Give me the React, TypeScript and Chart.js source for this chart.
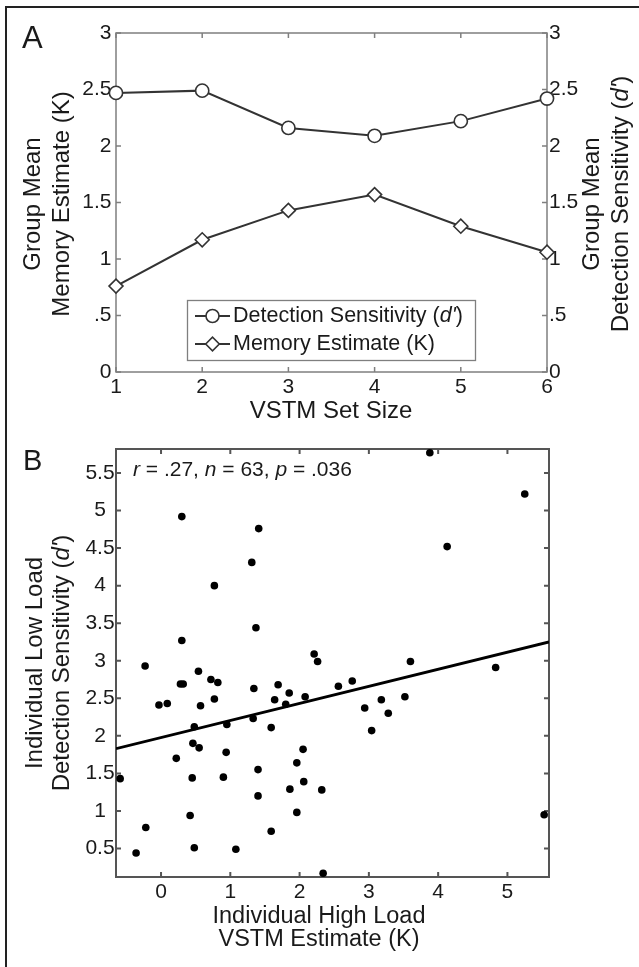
import React, { useEffect, useRef } from "react";
import { Chart, registerables } from "chart.js";

Chart.register(...registerables);

// ---------- Panel A data ----------
const setSizes = [1, 2, 3, 4, 5, 6];
const detectionDPrime = [2.47, 2.49, 2.16, 2.09, 2.22, 2.42];
const memoryK = [0.76, 1.17, 1.43, 1.57, 1.29, 1.06];
const aYTicks = [0, 0.5, 1, 1.5, 2, 2.5, 3];
const aYTickLabels = ["0", ".5", "1", "1.5", "2", "2.5", "3"];
const aXTicks = [1, 2, 3, 4, 5, 6];

// ---------- Panel B data ----------
const highLoadK = [
  0.3, 1.41, 1.31, 0.77, 1.37, 0.3, -0.23, 2.21, 2.26, 3.88,
  5.25, 4.13, 3.6, 4.83, 3.52, 5.53, 0.54, 0.28, 0.32, 0.72,
  0.82, 1.34, -0.03, 0.09, 0.57, 0.77, 1.33, 0.95, 0.48, 0.46,
  0.55, 0.94, 0.22, -0.59, 0.45, 0.9, 1.4, 1.4, 0.42, -0.22,
  -0.36, 0.48, 1.08, 1.69, 1.64, 1.85, 1.8, 2.08, 2.56, 2.76,
  2.94, 3.18, 3.28, 3.04, 1.59, 2.05, 1.96, 2.06, 1.86, 2.32,
  1.96, 1.59, 2.34,
];
const lowLoadDPrime = [
  4.92, 4.76, 4.31, 4.0, 3.44, 3.27, 2.93, 3.09, 2.99, 5.77,
  5.22, 4.52, 2.99, 2.91, 2.52, 0.95, 2.86, 2.69, 2.69, 2.75,
  2.71, 2.63, 2.41, 2.43, 2.4, 2.49, 2.23, 2.15, 2.12, 1.9,
  1.84, 1.78, 1.7, 1.43, 1.44, 1.45, 1.55, 1.2, 0.94, 0.78,
  0.44, 0.51, 0.49, 2.68, 2.48, 2.57, 2.42, 2.52, 2.66, 2.73,
  2.37, 2.48, 2.3, 2.07, 2.11, 1.82, 1.64, 1.39, 1.29, 1.28,
  0.98, 0.73, 0.17,
];
const fitX = [-0.65, 5.6];
const fitY = [1.83, 3.25];
const bXTicks = [0, 1, 2, 3, 4, 5];
const bYTicks = [0.5, 1, 1.5, 2, 2.5, 3, 3.5, 4, 4.5, 5, 5.5];
const bYTickLabels = ["0.5", "1", "1.5", "2", "2.5", "3", "3.5", "4", "4.5", "5", "5.5"];

// ---------- styling ----------
const W = 639;
const H = 967;
const FONT = '"Liberation Sans", Arial, Helvetica, sans-serif';
const INK = "#1a1a1a";
const LINE = "#333333";

type Seg = { t: string; i?: boolean };

function drawRich(
  ctx: CanvasRenderingContext2D,
  segs: Seg[],
  x: number,
  y: number,
  size: number,
  align: "left" | "center" | "right",
  rot = 0,
  color = INK
) {
  ctx.save();
  ctx.translate(x, y);
  if (rot) ctx.rotate(rot);
  ctx.textBaseline = "middle";
  ctx.textAlign = "left";
  ctx.fillStyle = color;
  const fontOf = (s: Seg) => `${s.i ? "italic " : ""}${size}px ${FONT}`;
  const widths = segs.map((s) => {
    ctx.font = fontOf(s);
    return ctx.measureText(s.t).width;
  });
  const total = widths.reduce((a, b) => a + b, 0);
  let cx = align === "left" ? 0 : align === "center" ? -total / 2 : -total;
  segs.forEach((s, k) => {
    ctx.font = fontOf(s);
    ctx.fillText(s.t, cx, 0);
    cx += widths[k];
  });
  ctx.restore();
}

function drawFrame(
  chart: any,
  xId: string,
  yLeftId: string,
  yRightId: string,
  xTicks: number[],
  yTicks: number[],
  color: string,
  width: number,
  tickLen: number
) {
  const ctx: CanvasRenderingContext2D = chart.ctx;
  const a = chart.chartArea;
  const xs = chart.scales[xId];
  const yl = chart.scales[yLeftId];
  const yr = chart.scales[yRightId];
  ctx.save();
  ctx.strokeStyle = color;
  ctx.lineWidth = width;
  ctx.strokeRect(a.left, a.top, a.right - a.left, a.bottom - a.top);
  ctx.beginPath();
  xTicks.forEach((v) => {
    const px = xs.getPixelForValue(v);
    ctx.moveTo(px, a.bottom);
    ctx.lineTo(px, a.bottom - tickLen);
    ctx.moveTo(px, a.top);
    ctx.lineTo(px, a.top + tickLen);
  });
  yTicks.forEach((v) => {
    const pl = yl.getPixelForValue(v);
    ctx.moveTo(a.left, pl);
    ctx.lineTo(a.left + tickLen, pl);
    const pr = yr.getPixelForValue(v);
    ctx.moveTo(a.right, pr);
    ctx.lineTo(a.right - tickLen, pr);
  });
  ctx.stroke();
  ctx.restore();
}

const panelAPlugin = {
  id: "panelA",
  beforeDatasetsDraw(chart: any) {
    const ctx: CanvasRenderingContext2D = chart.ctx;
    const a = chart.chartArea;
    drawFrame(chart, "x", "y", "y1", aXTicks, aYTicks, "#7f7f7f", 1.5, 5);
    const TS = 21;
    aYTicks.forEach((v, i) => {
      drawRich(ctx, [{ t: aYTickLabels[i] }], a.left - 4.5, chart.scales.y.getPixelForValue(v), TS, "right");
      drawRich(ctx, [{ t: aYTickLabels[i] }], a.right + 2, chart.scales.y1.getPixelForValue(v), TS, "left");
    });
    aXTicks.forEach((v) => {
      drawRich(ctx, [{ t: String(v) }], chart.scales.x.getPixelForValue(v), a.bottom + 15, TS, "center");
    });
    const AT = 24;
    const midY = (a.top + a.bottom) / 2 + 1.5;
    drawRich(ctx, [{ t: "Group Mean" }], 33, midY, AT, "center", -Math.PI / 2);
    drawRich(ctx, [{ t: "Memory Estimate (K)" }], 62, midY, AT, "center", -Math.PI / 2);
    drawRich(ctx, [{ t: "Group Mean" }], 592, midY, AT, "center", -Math.PI / 2);
    drawRich(
      ctx,
      [{ t: "Detection Sensitivity (" }, { t: "d'", i: true }, { t: ")" }],
      621,
      midY,
      AT,
      "center",
      -Math.PI / 2
    );
    drawRich(ctx, [{ t: "VSTM Set Size" }], 331, 411, AT, "center");
    drawRich(ctx, [{ t: "A" }], 22, 39, 31, "left");

    // legend
    ctx.save();
    ctx.fillStyle = "#fff";
    ctx.strokeStyle = "#7f7f7f";
    ctx.lineWidth = 1.3;
    ctx.fillRect(187.5, 300.5, 288, 60);
    ctx.strokeRect(187.5, 300.5, 288, 60);
    const rows = [316, 344];
    ctx.strokeStyle = LINE;
    ctx.lineWidth = 2;
    rows.forEach((ry) => {
      ctx.beginPath();
      ctx.moveTo(195, ry);
      ctx.lineTo(230, ry);
      ctx.stroke();
    });
    ctx.lineWidth = 1.6;
    ctx.fillStyle = "#fff";
    ctx.beginPath();
    ctx.arc(212.5, rows[0], 6.5, 0, Math.PI * 2);
    ctx.fill();
    ctx.stroke();
    ctx.beginPath();
    ctx.moveTo(212.5 - 6.8, rows[1]);
    ctx.lineTo(212.5, rows[1] - 6.8);
    ctx.lineTo(212.5 + 6.8, rows[1]);
    ctx.lineTo(212.5, rows[1] + 6.8);
    ctx.closePath();
    ctx.fill();
    ctx.stroke();
    ctx.restore();
    drawRich(
      ctx,
      [{ t: "Detection Sensitivity (" }, { t: "d'", i: true }, { t: ")" }],
      233,
      rows[0],
      21.5,
      "left"
    );
    drawRich(ctx, [{ t: "Memory Estimate (K)" }], 233, rows[1], 21.5, "left");
  },
};

const panelBPlugin = {
  id: "panelB",
  beforeDatasetsDraw(chart: any) {
    const ctx: CanvasRenderingContext2D = chart.ctx;
    const a = chart.chartArea;
    drawFrame(chart, "x", "y", "y", bXTicks, bYTicks, "#555555", 2, 5);
    const TS = 21;
    bYTicks.forEach((v, i) => {
      drawRich(ctx, [{ t: bYTickLabels[i] }], 100, chart.scales.y.getPixelForValue(v), TS, "center");
    });
    bXTicks.forEach((v) => {
      drawRich(ctx, [{ t: String(v) }], chart.scales.x.getPixelForValue(v), a.bottom + 15, TS, "center");
    });
    const AT = 24;
    const midY = (a.top + a.bottom) / 2;
    drawRich(ctx, [{ t: "Individual Low Load" }], 35, midY, AT, "center", -Math.PI / 2);
    drawRich(
      ctx,
      [{ t: "Detection Sensitivity (" }, { t: "d'", i: true }, { t: ")" }],
      62,
      midY,
      AT,
      "center",
      -Math.PI / 2
    );
    drawRich(ctx, [{ t: "Individual High Load" }], 319, 917, 23.5, "center");
    drawRich(ctx, [{ t: "VSTM Estimate (K)" }], 319, 940, 23.5, "center");
    drawRich(
      ctx,
      [
        { t: "r", i: true },
        { t: " = .27, " },
        { t: "n", i: true },
        { t: " = 63, " },
        { t: "p", i: true },
        { t: " = .036" },
      ],
      133,
      470,
      21,
      "left"
    );
    drawRich(ctx, [{ t: "B" }], 23, 462, 29, "left");
  },
};

export default function App() {
  const refA = useRef<HTMLCanvasElement>(null);
  const refB = useRef<HTMLCanvasElement>(null);

  useEffect(() => {
    const chartA = new Chart(refA.current as HTMLCanvasElement, {
      type: "line",
      data: {
        datasets: [
          {
            label: "Detection Sensitivity (d')",
            data: setSizes.map((x, i) => ({ x, y: detectionDPrime[i] })),
            xAxisID: "x",
            yAxisID: "y1",
            borderColor: LINE,
            borderWidth: 2,
            pointStyle: "circle",
            pointRadius: 6.6,
            pointBackgroundColor: "#fff",
            pointBorderColor: LINE,
            pointBorderWidth: 1.6,
            clip: false,
          } as any,
          {
            label: "Memory Estimate (K)",
            data: setSizes.map((x, i) => ({ x, y: memoryK[i] })),
            xAxisID: "x",
            yAxisID: "y",
            borderColor: LINE,
            borderWidth: 2,
            pointStyle: "rectRot",
            pointRadius: 7,
            pointBackgroundColor: "#fff",
            pointBorderColor: LINE,
            pointBorderWidth: 1.6,
            clip: false,
          } as any,
        ],
      },
      options: {
        responsive: false,
        animation: false,
        events: [],
        layout: { padding: { left: 116, top: 33, right: W - 547, bottom: H - 372 } },
        scales: {
          x: { type: "linear", min: 1, max: 6, display: false },
          y: { type: "linear", position: "left", min: 0, max: 3, display: false },
          y1: { type: "linear", position: "right", min: 0, max: 3, display: false },
        },
        plugins: {
          legend: { display: false },
          tooltip: { enabled: false },
          title: { display: false },
        },
      },
      plugins: [panelAPlugin],
    } as any);

    const chartB = new Chart(refB.current as HTMLCanvasElement, {
      type: "scatter",
      data: {
        datasets: [
          {
            type: "scatter",
            label: "Participants",
            data: highLoadK.map((x, i) => ({ x, y: lowLoadDPrime[i] })),
            pointStyle: "circle",
            pointRadius: 3.8,
            pointBackgroundColor: "#000",
            pointBorderWidth: 0,
            clip: false,
          } as any,
          {
            type: "line",
            label: "Fit",
            data: fitX.map((x, i) => ({ x, y: fitY[i] })),
            borderColor: "#000",
            borderWidth: 2.8,
            pointRadius: 0,
            fill: false,
          } as any,
        ],
      },
      options: {
        responsive: false,
        animation: false,
        events: [],
        layout: { padding: { left: 116, top: 449, right: W - 549, bottom: H - 877 } },
        scales: {
          x: { type: "linear", min: -0.65, max: 5.6, display: false },
          y: { type: "linear", min: 0.12, max: 5.82, display: false },
        },
        plugins: {
          legend: { display: false },
          tooltip: { enabled: false },
          title: { display: false },
        },
      },
      plugins: [panelBPlugin],
    } as any);

    return () => {
      chartA.destroy();
      chartB.destroy();
    };
  }, []);

  const canvasStyle: React.CSSProperties = {
    position: "absolute",
    left: 0,
    top: 0,
    width: W,
    height: H,
  };

  return (
    <div
      style={{
        position: "absolute",
        left: 0,
        top: 0,
        width: W,
        height: H,
        overflow: "hidden",
        background: "#fff",
      }}
    >
      <div
        style={{
          position: "absolute",
          left: 5,
          top: 6,
          width: 800,
          height: 1100,
          borderLeft: "2px solid #222",
          borderTop: "2px solid #222",
        }}
      />
      <canvas ref={refA} width={W} height={H} style={canvasStyle} />
      <canvas ref={refB} width={W} height={H} style={canvasStyle} />
    </div>
  );
}
